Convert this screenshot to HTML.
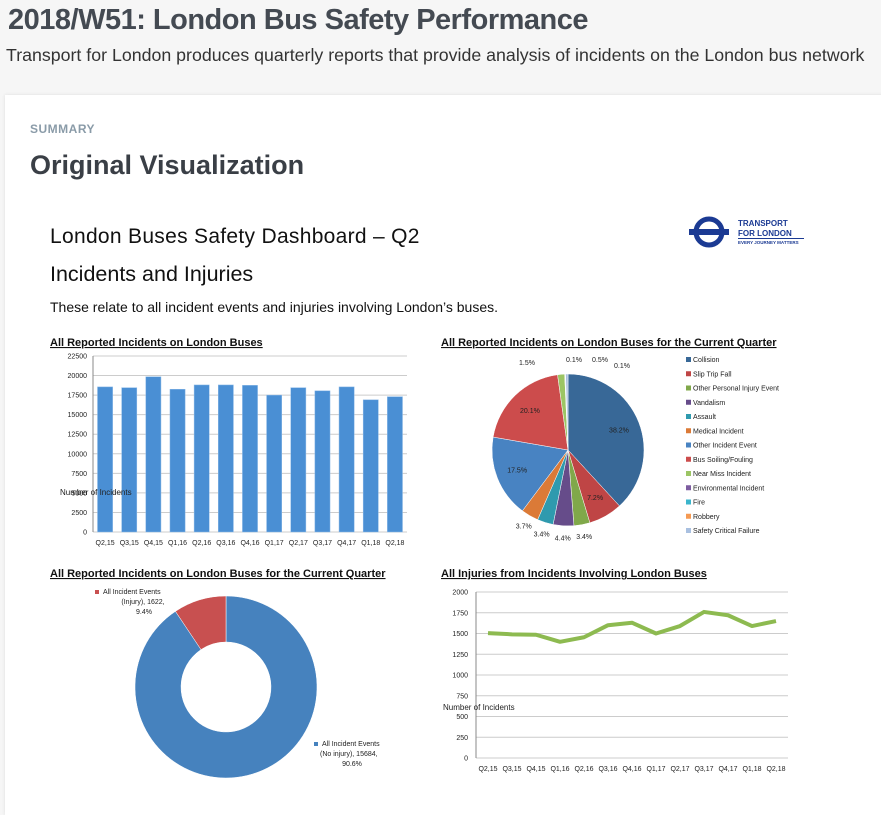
<!DOCTYPE html>
<html><head><meta charset="utf-8">
<style>
body{margin:0;width:881px;height:794px;overflow:hidden;background:#f6f6f6;font-family:"Liberation Sans",sans-serif;position:relative}
.h1{position:absolute;left:8px;top:4px;font-size:29px;font-weight:bold;color:#444a52;letter-spacing:-0.5px;white-space:nowrap}
.sub{position:absolute;left:6px;top:45px;font-size:17.5px;color:#333;white-space:nowrap;transform:scaleX(1.015);transform-origin:left top}
.card{position:absolute;left:5px;top:95px;width:890px;height:720px;background:#fff;box-shadow:0 0 3px #ddd}
svg{position:absolute;left:0;top:0}
</style></head><body>
<div class="h1">2018/W51: London Bus Safety Performance</div>
<div class="sub">Transport for London produces quarterly reports that provide analysis of incidents on the London bus network</div>
<div class="card"></div>
<svg id="s" width="881" height="794" font-family="Liberation Sans, sans-serif">
<text x="30" y="133" font-size="12" font-weight="bold" fill="#8a9ba8" letter-spacing="0.5">SUMMARY</text>
<text x="30" y="174" font-size="27" font-weight="bold" fill="#3a3f46">Original Visualization</text>
<text x="50" y="243" font-size="21" letter-spacing="0.3" fill="#111">London Buses Safety Dashboard – Q2</text>
<text x="50" y="281" font-size="21.5" fill="#111">Incidents and Injuries</text>
<text x="50" y="312" font-size="14" fill="#111">These relate to all incident events and injuries involving London’s buses.</text>
<g>
<circle cx="709" cy="232" r="13" fill="none" stroke="#1b3a93" stroke-width="5"/>
<rect x="689" y="229" width="40" height="6" fill="#1b3a93"/>
<text x="738" y="226" font-size="8" font-weight="bold" fill="#1b3a93">TRANSPORT</text>
<text x="738" y="236" font-size="8" font-weight="bold" fill="#1b3a93">FOR LONDON</text>
<rect x="738" y="238" width="66" height="1" fill="#1b3a93"/>
<text x="738" y="244" font-size="4.5" font-weight="bold" fill="#1b3a93">EVERY JOURNEY MATTERS</text>
</g>
<g font-size="11" font-weight="bold" fill="#111" text-decoration="underline">
<text x="50" y="346">All Reported Incidents on London Buses</text>
<text x="441" y="346">All Reported Incidents on London Buses for the Current Quarter</text>
<text x="50" y="577">All Reported Incidents on London Buses for the Current Quarter</text>
<text x="441" y="577">All Injuries from Incidents Involving London Buses</text>
</g>
<g id="bar"></g><g id="pie"></g><g id="donut"></g><g id="line"></g>
</svg>
<script>
const quarters=["Q2,15","Q3,15","Q4,15","Q1,16","Q2,16","Q3,16","Q4,16","Q1,17","Q2,17","Q3,17","Q4,17","Q1,18","Q2,18"];
const incidents=[18550,18450,19850,18250,18800,18800,18750,17500,18450,18050,18550,16900,17300];
const barTicks=[0,2500,5000,7500,10000,12500,15000,17500,20000,22500];
const pieLabels=["Collision","Slip Trip Fall","Other Personal Injury Event","Vandalism","Assault","Medical Incident","Other Incident Event","Bus Soiling/Fouling","Near Miss Incident","Environmental Incident","Fire","Robbery","Safety Critical Failure"];
const pieValues=[38.2,7.2,3.4,4.4,3.4,3.7,17.5,20.1,1.5,0.1,0.1,0,0.5];
const pieColors=["#386897","#bf4545","#80a84a","#664c8a","#2f9aae","#db7a37","#4883c2","#cc4c4c","#9cc564","#7d5ca0","#3bb5cc","#f59a53","#a9c0e0"];
const donutLabels=["All Incident Events (No injury)","All Incident Events (Injury)"];
const donutValues=[15684,1622];
const injuries=[1505,1490,1485,1400,1455,1600,1630,1500,1590,1760,1720,1590,1650];
const lineTicks=[0,250,500,750,1000,1250,1500,1750,2000];
const NS="http://www.w3.org/2000/svg";
function mk(p,t,a){const e=document.createElementNS(NS,t);for(const k in a)e.setAttribute(k,a[k]);p.appendChild(e);return e;}
// bar chart
(function(){
const g=document.getElementById('bar');const x0=93,x1=407,y0=532,y1=356,max=22500;
const y=v=>y0-(v/max)*(y0-y1);const bw=(x1-x0)/quarters.length;
barTicks.forEach(t=>{const l=mk(g,'line',{x1:x0,x2:x1,y1:y(t),y2:y(t),stroke:'#ccc','stroke-width':1});

const tx=mk(g,'text',{x:x0-6,y:y(t)+2.5,'font-size':7,'text-anchor':'end',fill:'#222'});tx.textContent=t;
});
mk(g,'line',{x1:x0,x2:x0,y1:y1,y2:y0,stroke:'#888'});
incidents.forEach((v,i)=>{const r=mk(g,'rect',{x:x0+i*bw+4.5,y:y(v),width:bw-9,height:y0-y(v),fill:'#4a8fd4',stroke:'#8fbbe8','stroke-width':0.5});

const tx=mk(g,'text',{x:x0+(i+0.5)*bw,y:y0+13,'font-size':7,'text-anchor':'middle',fill:'#222'});tx.textContent=quarters[i];
});
const at=mk(g,'text',{x:60,y:495,'font-size':8,fill:'#222'});at.textContent='Number of Incidents';

})();
// pie
(function(){
const g=document.getElementById('pie');const cx=568,cy=450,r=76;const tot=pieValues.reduce((a,b)=>a+b,0);
let a=0;pieValues.forEach((v,i)=>{if(v<=0)return;const a0=a/tot*2*Math.PI,a1=(a+v)/tot*2*Math.PI;a+=v;
const p=(an,rr)=>[cx+rr*Math.sin(an),cy-rr*Math.cos(an)];const [sx,sy]=p(a0,r),[ex,ey]=p(a1,r);
const s=mk(g,'path',{d:`M${cx},${cy}L${sx},${sy}A${r},${r} 0 ${a1-a0>Math.PI?1:0} 1 ${ex},${ey}Z`,fill:pieColors[i],stroke:'#fff','stroke-width':0.5});

if(v>=3){const inner=v>7;const [lx,ly]=p((a0+a1)/2,inner?r*0.72:r+12);
const t=mk(g,'text',{x:lx,y:ly+2.5,'font-size':7,'text-anchor':'middle',fill:'#222'});t.textContent=v.toFixed(1)+'%';
}});
[["1.5%",519,365],["0.1%",566,362],["0.5%",592,362],["0.1%",614,368]].forEach(d=>{const t=mk(g,'text',{x:d[1],y:d[2],'font-size':7,fill:'#222'});t.textContent=d[0];
});
pieLabels.forEach((l,i)=>{const yy=362+i*14.25;mk(g,'rect',{x:686,y:yy-5,width:5,height:5,fill:pieColors[i]});
const t=mk(g,'text',{x:693,y:yy,'font-size':7,fill:'#222'});t.textContent=l;
});
})();
// donut
(function(){
const g=document.getElementById('donut');const cx=226,cy=687,R=91,r0=45;const tot=donutValues.reduce((a,b)=>a+b,0);
const cols=['#4682be','#c85050'];let a=0;
donutValues.forEach((v,i)=>{const a0=a/tot*2*Math.PI,a1=(a+v)/tot*2*Math.PI;a+=v;
const p=(an,rr)=>[cx+rr*Math.sin(an),cy-rr*Math.cos(an)];const L=a1-a0>Math.PI?1:0;
const [ax,ay]=p(a0,R),[bx,by]=p(a1,R),[cx2,cy2]=p(a1,r0),[dx,dy]=p(a0,r0);
const s=mk(g,'path',{d:`M${ax},${ay}A${R},${R} 0 ${L} 1 ${bx},${by}L${cx2},${cy2}A${r0},${r0} 0 ${L} 0 ${dx},${dy}Z`,fill:cols[i],stroke:'#fff','stroke-width':0.5});
});
mk(g,'rect',{x:314,y:742,width:4,height:4,fill:cols[0]});mk(g,'rect',{x:95,y:590,width:4,height:4,fill:cols[1]});
const pc=v=>(v/tot*100).toFixed(1)+'%';
[[322,746,donutLabels[0]+'','start'],[320,756,'(No injury), '+donutValues[0]+',','start'],[352,766,pc(donutValues[0]),'middle'],
 [103,594,'All Incident Events','start'],[143,604,'(Injury), '+donutValues[1]+',','middle'],[144,614,pc(donutValues[1]),'middle']].forEach(d=>{
 const t=mk(g,'text',{x:d[0],y:d[1],'font-size':7,fill:'#222','text-anchor':d[3]});t.textContent=d[2].replace(' (No injury)','');
 });
})();
// line
(function(){
const g=document.getElementById('line');const x0=476,x1=788,y0=758,y1=592,max=2000;
const y=v=>y0-(v/max)*(y0-y1);const bw=(x1-x0)/quarters.length;
lineTicks.forEach(t=>{const l=mk(g,'line',{x1:x0,x2:x1,y1:y(t),y2:y(t),stroke:'#ccc'});

const tx=mk(g,'text',{x:x0-8,y:y(t)+2.5,'font-size':7,'text-anchor':'end',fill:'#222'});tx.textContent=t;
});
mk(g,'line',{x1:x0,x2:x0,y1:y1,y2:y0,stroke:'#888'});
quarters.forEach((q,i)=>{const tx=mk(g,'text',{x:x0+(i+0.5)*bw,y:y0+13,'font-size':7,'text-anchor':'middle',fill:'#222'});tx.textContent=q;
});
const pl=mk(g,'polyline',{points:injuries.map((v,i)=>(x0+(i+0.5)*bw)+','+y(v)).join(' '),fill:'none',stroke:'#8dba50','stroke-width':4,'stroke-linejoin':'round'});

const at=mk(g,'text',{x:443,y:710,'font-size':8,fill:'#222'});at.textContent='Number of Incidents';

})();
</script>
</body></html>
